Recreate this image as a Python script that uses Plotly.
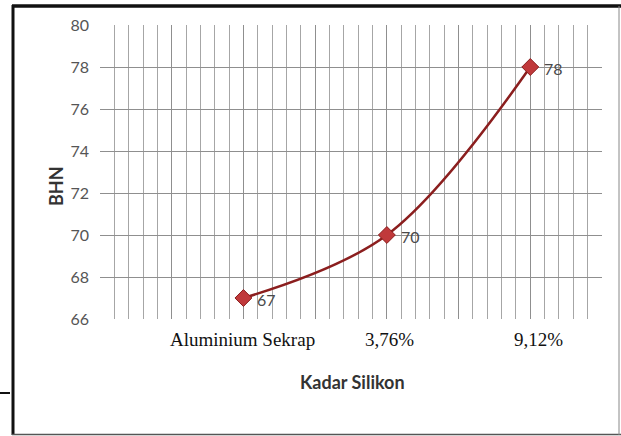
import plotly.graph_objects as go

# Brinell hardness versus silicon content
categories = ["Aluminium Sekrap", "3,76%", "9,12%"]
x_pos = [2, 4, 6]
bhn = [67, 70, 78]
y_ticks = [66, 68, 70, 72, 74, 76, 78, 80]

W, H = 621, 436
L, R, T, B = 100, 19, 25, 117
pw, ph = W - L - R, H - T - B


def px(X):
    return (X - L) / pw


def py(Y):
    return 1 - (Y - T) / ph


fig = go.Figure()
fig.add_trace(go.Scatter(
    x=x_pos, y=bhn,
    mode="lines+markers",
    line=dict(color="#8B1E1E", width=2.5, shape="spline", smoothing=1.0),
    marker=dict(symbol="diamond", size=13, color="#C0393B",
                line=dict(color="#8B1E1E", width=1)),
    showlegend=False,
))

# value labels to the right of each point
for xv, v in zip(x_pos, bhn):
    fig.add_annotation(x=xv, y=v, xref="x", yref="y", text=str(v),
                       showarrow=False, xanchor="left", xshift=12, yshift=-1,
                       font=dict(family="Lato, sans-serif", size=16, color="#4a4a4a"))

# category labels beneath the plot area
shifts = [-1, 3, 8]
for xv, lab, sh in zip(x_pos, categories, shifts):
    fig.add_annotation(x=xv, y=py(352), xref="x", yref="paper", text=lab,
                       showarrow=False, xshift=sh,
                       font=dict(family="Liberation Serif, serif", size=19, color="#111111"))

fig.add_annotation(x=px(352), y=py(395), xref="paper", yref="paper",
                   text="<b>Kadar Silikon</b>", showarrow=False,
                   font=dict(family="Lato, sans-serif", size=18, color="#333333"))

fig.add_annotation(x=px(43), y=py(186), xref="paper", yref="paper",
                   text="<b>BHN</b>", showarrow=False, textangle=-90,
                   font=dict(family="Lato, sans-serif", size=18, color="#333333"))

shapes = [
    # outer frame
    dict(type="line", x0=px(12), x1=px(621), y0=py(6), y1=py(6),
         line=dict(color="#111111", width=3.5)),
    dict(type="line", x0=px(13), x1=px(13), y0=py(5), y1=py(435),
         line=dict(color="#111111", width=3)),
    dict(type="line", x0=px(12), x1=px(621), y0=py(434.5), y1=py(434.5),
         line=dict(color="#555555", width=1.5)),
    dict(type="line", x0=px(619), x1=px(619), y0=py(6), y1=py(435),
         line=dict(color="#888888", width=1)),
    dict(type="line", x0=px(0), x1=px(10), y0=py(393), y1=py(393),
         line=dict(color="#111111", width=2)),
]
for s in shapes:
    s.update(xref="paper", yref="paper", layer="above")

fig.update_layout(
    width=W, height=H,
    margin=dict(l=L, r=R, t=T, b=B),
    paper_bgcolor="white", plot_bgcolor="white",
    shapes=shapes,
    xaxis=dict(range=[0, 7], tick0=0, dtick=1, showgrid=True,
               gridcolor="#8f8f8f", gridwidth=1.2,
               minor=dict(dtick=0.2, tick0=0, showgrid=True,
                          gridcolor="#a6a6a6", gridwidth=1.2),
               showticklabels=False, zeroline=False, showline=False,
               fixedrange=True),
    yaxis=dict(range=[66, 80], tickvals=y_ticks, showgrid=True,
               gridcolor="#8f8f8f", gridwidth=1.2, zeroline=False,
               showline=False, ticks="", ticklabelstandoff=10,
               tickfont=dict(family="Lato, sans-serif", size=16, color="#555555")),
)

fig.write_html("out.html")
